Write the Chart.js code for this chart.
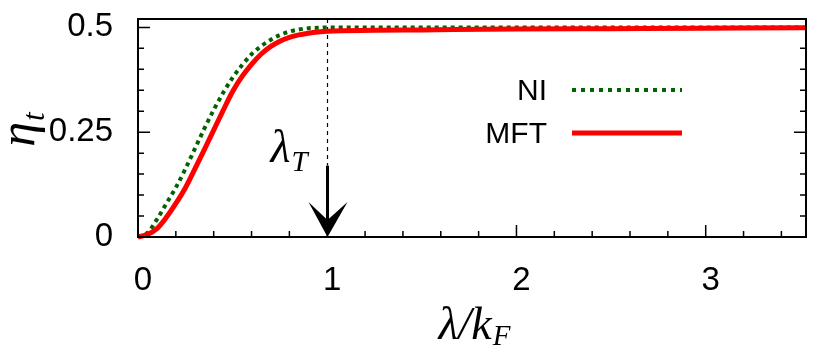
<!DOCTYPE html>
<html lang="en">
<head>
    <meta charset="UTF-8">
    <title>eta_t vs lambda/k_F</title>
    <script src="https://cdn.jsdelivr.net/npm/chart.js"></script>
    <style>
        html, body { margin: 0; padding: 0; background: #fff; }
        #wrap { width: 822px; height: 346px; }
    </style>
</head>
<body>
    <div id="wrap"><canvas id="etaChart" width="822" height="346"></canvas></div>
    <script>
        // lambda / k_F sample points
        const lambdaVals = [0, 0.05, 0.1, 0.15, 0.2, 0.25, 0.3, 0.35, 0.4, 0.45, 0.5, 0.55, 0.6, 0.65,
                            0.7, 0.75, 0.8, 0.85, 0.9, 0.95, 1.0, 1.25, 1.5, 2.0, 2.5, 3.0, 3.53];
        const niVals  = [0, 0.010, 0.042, 0.080, 0.118, 0.162, 0.210, 0.258, 0.303, 0.344, 0.380, 0.410, 0.436, 0.455,
                         0.470, 0.482, 0.490, 0.495, 0.498, 0.499, 0.500, 0.500, 0.500, 0.500, 0.500, 0.500, 0.500];
        const mftVals = [0, 0.006, 0.020, 0.047, 0.080, 0.117, 0.162, 0.208, 0.255, 0.302, 0.347, 0.383, 0.412, 0.436,
                         0.454, 0.467, 0.476, 0.482, 0.486, 0.489, 0.491, 0.493, 0.494, 0.496, 0.497, 0.498, 0.499];

        const xTicks = [0, 1, 2, 3];
        const yTicks = [0, 0.25, 0.5];
        const xMinorStep = 0.2;
        const yMinorStep = 0.05;
        const xMax = 3.53;
        const yMax = 0.52;

        const lambdaT = 1.0;      // marked threshold
        const arrowTop = 0.17;    // eta where the arrow starts

        const GREEN = '#006400';
        const RED = '#ff0000';

        const toPoints = ys => lambdaVals.map((x, i) => ({ x: x, y: ys[i] }));

        // draws a string with an italic main part and a lowered subscript
        function mathText(ctx, main, sub, x, y, size, align, drop) {
            const subSize = Math.round(size * 0.62);
            ctx.font = 'italic ' + size + 'px "Liberation Serif"';
            const w1 = ctx.measureText(main).width;
            ctx.font = 'italic ' + subSize + 'px "Liberation Serif"';
            const w2 = ctx.measureText(sub).width;
            let x0 = x;
            if (align === 'center') x0 = x - (w1 + w2) / 2;
            ctx.textAlign = 'left';
            ctx.textBaseline = 'alphabetic';
            ctx.font = 'italic ' + size + 'px "Liberation Serif"';
            ctx.fillText(main, x0, y);
            ctx.font = 'italic ' + subSize + 'px "Liberation Serif"';
            ctx.fillText(sub, x0 + w1 + 1, y + size * drop);
        }

        const framePlugin = {
            id: 'frame',
            beforeDatasetsDraw(chart) {
                const { ctx, chartArea: a, scales: { x, y } } = chart;
                ctx.save();
                ctx.strokeStyle = '#000';
                ctx.lineWidth = 1.5;
                ctx.beginPath();
                for (let v = 0; v <= xMax + 1e-9; v += xMinorStep) {
                    const major = xTicks.some(t => Math.abs(t - v) < 1e-6);
                    const px = x.getPixelForValue(v);
                    ctx.moveTo(px, a.bottom);
                    ctx.lineTo(px, a.bottom - (major ? 12 : 6));
                }
                for (let v = 0; v <= yMax + 1e-9; v += yMinorStep) {
                    const major = yTicks.some(t => Math.abs(t - v) < 1e-6);
                    const py = y.getPixelForValue(v);
                    const len = major ? 12 : 6;
                    ctx.moveTo(a.left, py);
                    ctx.lineTo(a.left + len, py);
                    ctx.moveTo(a.right, py);
                    ctx.lineTo(a.right - len, py);
                }
                ctx.stroke();

                // dashed marker line at lambda_T
                const lx = Math.round(x.getPixelForValue(lambdaT)) + 0.5;
                ctx.lineWidth = 1.2;
                ctx.setLineDash([4, 4]);
                ctx.beginPath();
                ctx.moveTo(lx, a.top);
                ctx.lineTo(lx, y.getPixelForValue(arrowTop));
                ctx.stroke();
                ctx.setLineDash([]);
                ctx.restore();
            },
            afterDatasetsDraw(chart) {
                const { ctx, chartArea: a, scales: { x, y } } = chart;
                ctx.save();
                ctx.strokeStyle = '#000';
                ctx.lineWidth = 2;
                ctx.strokeRect(a.left, a.top, a.right - a.left, a.bottom - a.top);

                // arrow pointing down to lambda_T
                const lx = Math.round(x.getPixelForValue(lambdaT)) + 0.5;
                const top = y.getPixelForValue(arrowTop);
                const tip = y.getPixelForValue(0);
                ctx.lineWidth = 3;
                ctx.beginPath();
                ctx.moveTo(lx, top);
                ctx.lineTo(lx, tip - 12);
                ctx.stroke();
                ctx.fillStyle = '#000';
                ctx.beginPath();
                ctx.moveTo(lx, tip);
                ctx.lineTo(lx - 19, tip - 35);
                ctx.lineTo(lx, tip - 17);
                ctx.lineTo(lx + 20, tip - 35);
                ctx.closePath();
                ctx.fill();

                mathText(ctx, 'λ', 'T', lx - 57, top - 4, 46, 'left', 0.2);

                // legend
                ctx.font = '30px "Liberation Sans"';
                ctx.textAlign = 'right';
                ctx.textBaseline = 'middle';
                ctx.fillText('NI', 547, 92);
                ctx.fillText('MFT', 547, 135);
                ctx.lineWidth = 4;
                ctx.strokeStyle = GREEN;
                ctx.setLineDash([4, 5]);
                ctx.beginPath();
                ctx.moveTo(572, 90);
                ctx.lineTo(682, 90);
                ctx.stroke();
                ctx.setLineDash([]);
                ctx.strokeStyle = RED;
                ctx.lineWidth = 5;
                ctx.beginPath();
                ctx.moveTo(572, 133);
                ctx.lineTo(682, 133);
                ctx.stroke();

                // axis titles
                ctx.fillStyle = '#000';
                mathText(ctx, 'λ/k', 'F', (a.left + a.right) / 2 + 2, 339, 46, 'center', 0.12);
                ctx.translate(34, (a.top + a.bottom) / 2 + 2);
                ctx.rotate(-Math.PI / 2);
                mathText(ctx, 'η', 't', 0, 0, 50, 'center', 0.2);
                ctx.restore();
            }
        };

        new Chart(document.getElementById('etaChart').getContext('2d'), {
            type: 'line',
            data: {
                datasets: [
                    { label: 'MFT', data: toPoints(mftVals), borderColor: RED, borderWidth: 5,
                      pointRadius: 0, cubicInterpolationMode: 'monotone', fill: false, clip: false },
                    { label: 'NI', data: toPoints(niVals), borderColor: GREEN, borderWidth: 4,
                      borderDash: [4, 4], pointRadius: 0, cubicInterpolationMode: 'monotone', fill: false, clip: false }
                ]
            },
            options: {
                responsive: false,
                animation: false,
                devicePixelRatio: 1,
                layout: { padding: { left: 0, right: 16, top: 19, bottom: 0 } },
                plugins: { legend: { display: false }, tooltip: { enabled: false } },
                scales: {
                    x: {
                        type: 'linear', min: 0, max: xMax,
                        grid: { display: false, drawTicks: false },
                        border: { display: false },
                        afterBuildTicks: s => { s.ticks = xTicks.map(v => ({ value: v })); },
                        afterFit: s => { s.height = 109; s.paddingLeft = 0; s.paddingRight = 0; },
                        ticks: { color: '#000', padding: 24, labelOffset: 5, maxRotation: 0,
                                 font: { family: 'Liberation Sans', size: 33 },
                                 callback: v => String(v) }
                    },
                    y: {
                        type: 'linear', min: 0, max: yMax,
                        grid: { display: false, drawTicks: false },
                        border: { display: false },
                        afterBuildTicks: s => { s.ticks = yTicks.map(v => ({ value: v })); },
                        afterFit: s => { s.width = 138; s.paddingTop = 0; s.paddingBottom = 0; },
                        ticks: { color: '#000', padding: 25,
                                 font: { family: 'Liberation Sans', size: 33 },
                                 callback: v => String(v) }
                    }
                }
            },
            plugins: [framePlugin]
        });
    </script>
</body>
</html>
